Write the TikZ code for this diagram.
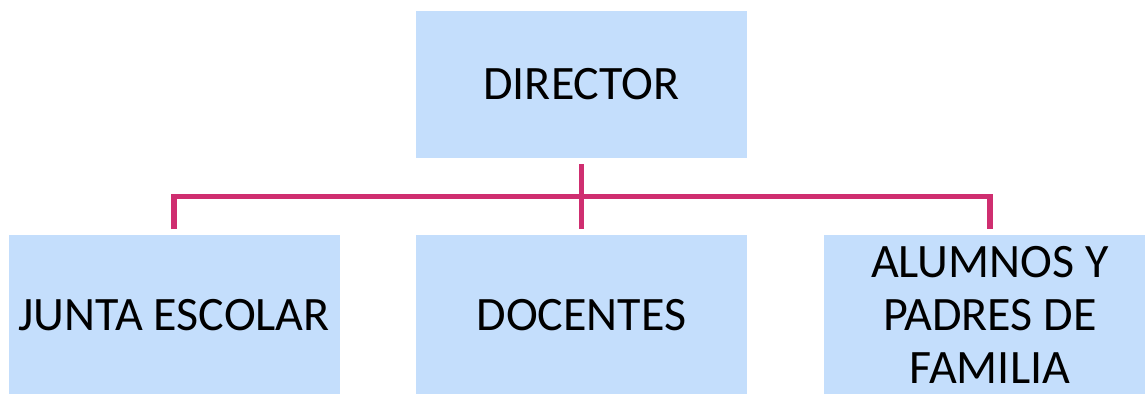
\documentclass[tikz,border=0pt]{standalone}
\usepackage{fontspec}
\setmainfont{Carlito}
\usepackage{tikz}
\usetikzlibrary{positioning, calc}
\definecolor{cajaazul}{RGB}{196,222,252}
\definecolor{lineamag}{RGB}{207,46,112}

\begin{document}
\begin{tikzpicture}[x=1pt,y=1pt,
  caja/.style={rectangle, fill=cajaazul, inner sep=0pt, align=center,
  font=\fontsize{48}{53}\selectfont, minimum width=331pt, minimum height=159pt},
  linea/.style={draw=lineamag, line width=5.5pt, shorten >=6pt, shorten <=6pt}]
  \useasboundingbox (0,0) rectangle (1145,394);
  \clip (0,0) rectangle (1145,394);
  \node[caja, minimum height=147pt] (DIR) at (581.5,309.5) {DIRECTOR};
  \node[caja] (DOC) [below=77pt of DIR] {DOCENTES};
  \node[caja] (JUN) [left=76pt of DOC] {JUNTA ESCOLAR};
  \node[caja] (ALU) [right=77pt of DOC] {ALUMNOS Y\\PADRES DE\\FAMILIA};
  \coordinate (bus) at ($(DIR.south)!0.5!(DOC.north)$);

  \draw[linea] (DIR.south) -- (DOC.north);
  \draw[linea] (JUN.north) |- (bus) -| (ALU.north);
\end{tikzpicture}
\end{document}
